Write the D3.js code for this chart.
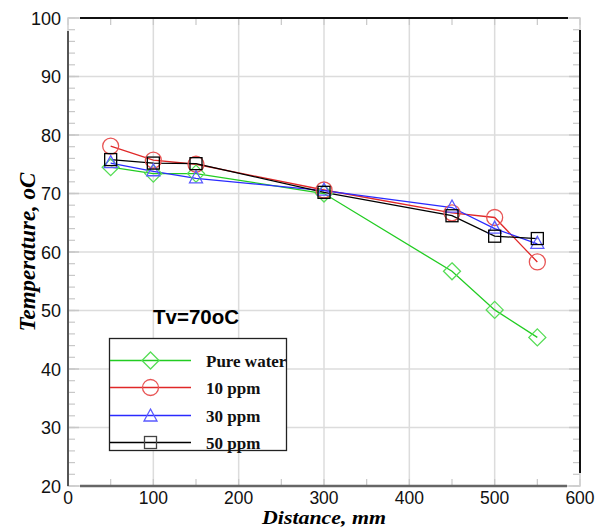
<!DOCTYPE html>
<html><head><meta charset="utf-8">
<script src="https://cdn.jsdelivr.net/npm/d3@7"></script>
<style>body{margin:0;background:#fff}svg{display:block}</style>
</head><body>
<script>
const distances = [50, 100, 150, 300, 450, 500, 550];
const pureWater = [74.5, 73.4, 73.4, 70.0, 56.7, 50.1, 45.4];
const ppm10 = [78.1, 75.7, 75.0, 70.6, 66.7, 65.9, 58.3];
const ppm30 = [75.2, 73.8, 72.6, 70.5, 67.6, 64.0, 61.4];
const ppm50 = [75.8, 75.2, 75.1, 70.2, 66.2, 62.7, 62.3];
const seriesNames = ["Pure water", "10 ppm", "30 ppm", "50 ppm"];
const xTicks = [0, 100, 200, 300, 400, 500, 600];
const yTicks = [20, 30, 40, 50, 60, 70, 80, 90, 100];
const title = "Tv=70oC";

const W = 596, H = 528;
const L = 68, R = 580, T = 18, B = 486;
const svg = d3.select("body").append("svg").attr("width", W).attr("height", H);
const x = d3.scaleLinear().domain([0, 600]).range([L, R]);
const y = d3.scaleLinear().domain([20, 100]).range([B, T]);

const colors = ["#22cc22", "#e02828", "#2a2aff", "#000000"];
const markColors = ["#55dd55", "#e85555", "#5a5aff", "#000000"];
const shapes = ["diamond", "circle", "triangle", "square"];
const data = [pureWater, ppm10, ppm30, ppm50];

// grid
const g = svg.append("g");
g.selectAll(".gx").data(xTicks.slice(1, -1)).enter().append("line")
  .attr("x1", d => x(d)).attr("x2", d => x(d)).attr("y1", T).attr("y2", B)
  .attr("stroke", "#dcdcdc").attr("stroke-width", 1.5);
g.selectAll(".gy").data(yTicks.slice(1, -1)).enter().append("line")
  .attr("y1", d => y(d)).attr("y2", d => y(d)).attr("x1", L).attr("x2", R)
  .attr("stroke", "#dcdcdc").attr("stroke-width", 1.5);

// minor ticks
const yMinor = d3.range(20, 101, 2);
const xMinor = d3.range(0, 601, 50);
[L, R].forEach((xx, i) => {
  g.selectAll(null).data(yMinor).enter().append("line")
    .attr("x1", xx).attr("x2", i === 0 ? xx + 7 : xx - 7)
    .attr("y1", d => y(d)).attr("y2", d => y(d))
    .attr("stroke", "#c8c8c8").attr("stroke-width", 1.2);
  g.selectAll(null).data(yTicks).enter().append("line")
    .attr("x1", xx).attr("x2", i === 0 ? xx + 11 : xx - 11)
    .attr("y1", d => y(d)).attr("y2", d => y(d))
    .attr("stroke", "#c8c8c8").attr("stroke-width", 1.5);
});
[B, T].forEach((yy, i) => {
  g.selectAll(null).data(xMinor).enter().append("line")
    .attr("y1", yy).attr("y2", i === 0 ? yy - 7 : yy + 7)
    .attr("x1", d => x(d)).attr("x2", d => x(d))
    .attr("stroke", "#c8c8c8").attr("stroke-width", 1.2);
});

// frame
svg.append("rect").attr("x", L).attr("y", T).attr("width", R - L).attr("height", B - T)
  .attr("fill", "none").attr("stroke", "#cfcfcf").attr("stroke-width", 1.5);
svg.append("line").attr("x1", L).attr("x2", L).attr("y1", T + 13).attr("y2", B)
  .attr("stroke", "#555").attr("stroke-width", 2);
svg.append("line").attr("x1", L + 12).attr("x2", R - 13).attr("y1", B).attr("y2", B)
  .attr("stroke", "#666").attr("stroke-width", 2.5);
svg.append("line").attr("x1", L + 12).attr("x2", R - 12).attr("y1", T).attr("y2", T)
  .attr("stroke", "#111").attr("stroke-width", 2);
svg.append("line").attr("x1", R).attr("x2", R).attr("y1", T + 12).attr("y2", B - 13)
  .attr("stroke", "#111").attr("stroke-width", 2);

// tick labels
svg.selectAll(".yl").data(yTicks).enter().append("text")
  .attr("x", L - 7).attr("y", d => y(d) + 6.5).attr("text-anchor", "end")
  .attr("font-family", "Liberation Sans, Arial, sans-serif").attr("font-size", 18)
  .attr("fill", "#111").text(d => d);
svg.selectAll(".xl").data(xTicks).enter().append("text")
  .attr("x", d => x(d)).attr("y", B + 17.5).attr("text-anchor", "middle")
  .attr("font-family", "Liberation Sans, Arial, sans-serif").attr("font-size", 17.5)
  .attr("fill", "#111").text(d => d);

// axis titles
svg.append("text").attr("x", x(300)).attr("y", 523.5).attr("text-anchor", "middle")
  .attr("font-family", "Liberation Serif, Times New Roman, serif").attr("font-weight", "bold")
  .attr("font-style", "italic").attr("font-size", 19)
  .attr("textLength", 124).attr("lengthAdjust", "spacingAndGlyphs").text("Distance, mm");
svg.append("text").attr("transform", `translate(35,${y(60)}) rotate(-90)`).attr("text-anchor", "middle")
  .attr("font-family", "Liberation Serif, Times New Roman, serif").attr("font-weight", "bold")
  .attr("font-style", "italic").attr("font-size", 23).text("Temperature, oC");

// markers
function marker(sel, shape, color) {
  if (shape === "circle") sel.append("circle").attr("r", 8);
  else if (shape === "diamond") sel.append("path").attr("d", "M0,-8.5L8.5,0L0,8.5L-8.5,0Z");
  else if (shape === "triangle") sel.append("path").attr("d", "M0,-7.5L6.5,4.5L-6.5,4.5Z");
  else sel.append("rect").attr("x", -6).attr("y", -6).attr("width", 12).attr("height", 12);
  sel.selectAll("*").attr("fill", "none").attr("stroke", color).attr("stroke-width", 1.3);
}

const line = d3.line().x((d, i) => x(distances[i])).y(d => y(d));
data.forEach((vals, k) => {
  svg.append("path").datum(vals).attr("d", line).attr("fill", "none")
    .attr("stroke", colors[k]).attr("stroke-width", 1.3);
});
data.forEach((vals, k) => {
  vals.forEach((v, i) => {
    const m = svg.append("g").attr("transform", `translate(${x(distances[i])},${y(v)})`);
    marker(m, shapes[k], markColors[k]);
  });
});

// title
svg.append("text").attr("x", 196).attr("y", 324).attr("text-anchor", "middle")
  .attr("font-family", "Liberation Sans, Arial, sans-serif").attr("font-weight", "bold")
  .attr("font-size", 20.5).text(title);

// legend
const lg = svg.append("g");
lg.append("rect").attr("x", 109.5).attr("y", 338.5).attr("width", 177).attr("height", 112)
  .attr("fill", "#fff").attr("stroke", "#222").attr("stroke-width", 1.3);
const rowY = [360.5, 387.5, 415.5, 442.5];
seriesNames.forEach((name, k) => {
  lg.append("line").attr("x1", 110).attr("x2", 191).attr("y1", rowY[k]).attr("y2", rowY[k])
    .attr("stroke", colors[k]).attr("stroke-width", 1.5);
  const m = lg.append("g").attr("transform", `translate(150.5,${rowY[k] + (shapes[k] === "triangle" ? 1 : 0)})`);
  marker(m, shapes[k], markColors[k]);
  if (shapes[k] === "square") m.select("rect").attr("stroke", "#444");
  lg.append("text").attr("x", 206).attr("y", rowY[k] + 6).attr("font-family", "Liberation Serif, Times New Roman, serif")
    .attr("font-weight", "bold").attr("font-size", 17).attr("fill", "#111").text(name);
});
</script>
</body></html>
